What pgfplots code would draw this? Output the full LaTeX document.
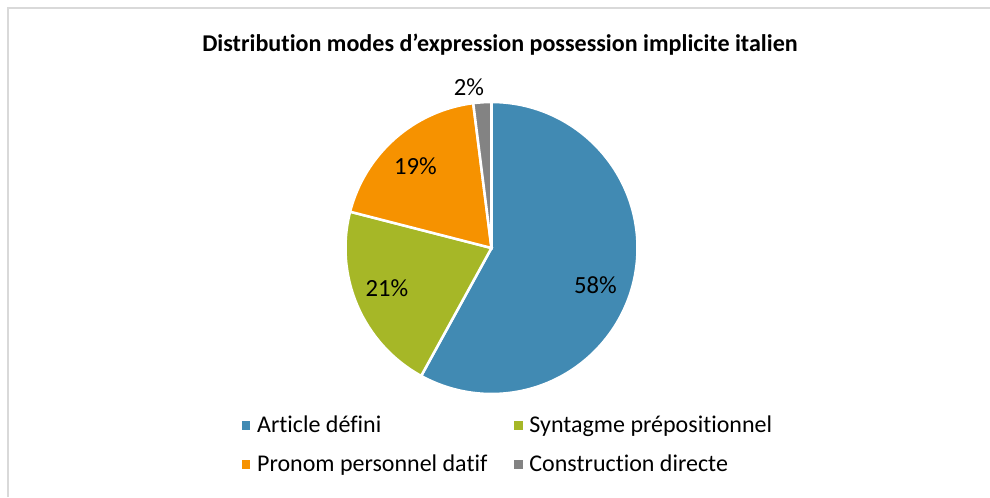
\documentclass[border=0pt]{standalone}
\usepackage{pgfplots}
\pgfplotsset{compat=1.18}
\usepackage{pgfplotstable}
\usepgfplotslibrary{polar}
\usepackage{fontspec}
\setmainfont{Carlito}[Ligatures={NoCommon}]

\definecolor{cA}{HTML}{418AB3}
\definecolor{cB}{HTML}{A6B727}
\definecolor{cC}{HTML}{F69200}
\definecolor{cD}{HTML}{838383}
\definecolor{frame}{HTML}{D9D9D9}

\pgfplotstableread[col sep=comma]{
label,value
Article défini,58
Syntagme prépositionnel,21
Pronom personnel datif,19
Construction directe,2
}\piedata

\pgfplotstablegetelem{0}{value}\of\piedata \let\vA\pgfplotsretval
\pgfplotstablegetelem{1}{value}\of\piedata \let\vB\pgfplotsretval
\pgfplotstablegetelem{2}{value}\of\piedata \let\vC\pgfplotsretval
\pgfplotstablegetelem{3}{value}\of\piedata \let\vD\pgfplotsretval
\pgfmathsetmacro\angA{90}
\pgfmathsetmacro\angB{\angA-3.6*\vA}
\pgfmathsetmacro\angC{\angB-3.6*\vB}
\pgfmathsetmacro\angD{\angC-3.6*\vC}
\pgfmathsetmacro\angE{\angD-3.6*\vD}

\begin{document}
\begin{tikzpicture}[x=0.75pt,y=0.75pt]
\useasboundingbox (0,0) rectangle (990,497);
\draw[frame, line width=1.1pt] (8,0) -- (8,489) -- (990,489);
\node[font=\fontsize{18.05}{21}\selectfont\bfseries, anchor=base] at (500,445.5)
  {Distribution modes d’expression possession implicite italien};
\begin{polaraxis}[
  hide axis, scale only axis, width=219pt, height=219pt,
  xmin=0, xmax=360, ymin=0, ymax=1,
  at={(368.625pt,186.75pt)}, anchor=origin, clip=false,
  legend columns=2,
  legend image code/.code={\fill[#1, draw=none] (0pt,-3.25pt) rectangle (6.5pt,3.25pt);},
  legend style={draw=none, fill=none, inner sep=0pt,
    font=\fontsize{18}{21}\selectfont,
    at={(-0.356,-0.066)}, anchor=north west,
    legend cell align=left,
    /tikz/every odd column/.append style={column sep=3pt},
    /tikz/every even column/.append style={column sep=18pt},
    row sep=11pt},
  slice/.style={draw=white, line width=1.9pt, line join=miter},
]
\addplot[slice, fill=cA] coordinates {(0,0) (\angA,1)} arc[start angle=\angA, end angle=\angB, radius=109.5pt] -- cycle;
\addlegendentry{Article défini}
\addplot[slice, fill=cB] coordinates {(0,0) (\angB,1)} arc[start angle=\angB, end angle=\angC, radius=109.5pt] -- cycle;
\addlegendentry{Syntagme prépositionnel}
\addplot[slice, fill=cC] coordinates {(0,0) (\angC,1)} arc[start angle=\angC, end angle=\angD, radius=109.5pt] -- cycle;
\addlegendentry{Pronom personnel datif}
\addplot[slice, fill=cD] coordinates {(0,0) (\angD,1)} arc[start angle=\angD, end angle=\angE, radius=109.5pt] -- cycle;
\addlegendentry{Construction directe}
\end{polaraxis}
\begin{scope}[font=\fontsize{18.5}{22}\selectfont]
\node at (595.5,211.5) {\vA\%};
\node at (387,209) {\vB\%};
\node at (415.5,330.5) {\vC\%};
\node at (469,410) {\vD\%};
\end{scope}
\end{tikzpicture}
\end{document}
